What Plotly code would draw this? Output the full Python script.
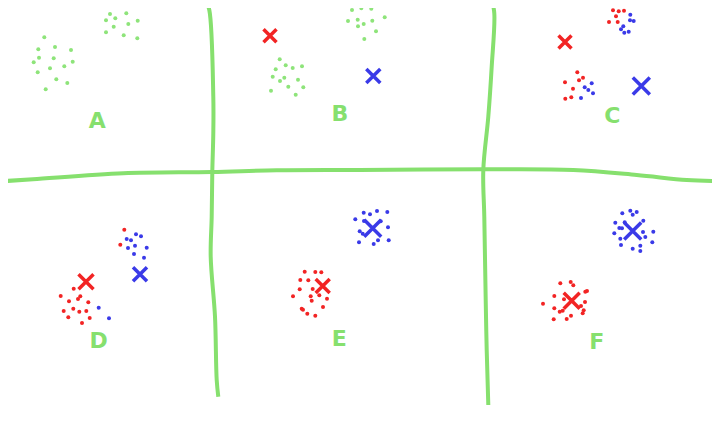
import plotly.graph_objects as go

# ---------- data (drawing coordinates, x right, y down) ----------
# Panel A
a_green_x = [110, 115.3, 126.3, 106, 128.3, 137.7, 113.7, 106, 123.7, 137.3,
             44.3, 38.3, 55, 71, 39, 53.7, 33.7, 72.7, 50, 64.3, 37.7, 56.3, 67.3, 45.7]
a_green_y = [14, 18.3, 13.3, 20.3, 24, 20.7, 26.7, 32.3, 35.3, 38.3,
             37.3, 49.3, 47, 50, 57.7, 58.3, 62.3, 61.7, 68.3, 66.3, 72.3, 79.3, 83, 89.3]
# Panel B
b_green_x = [352, 361.3, 371.3, 348, 357.7, 363.7, 358, 372.3, 384.7, 376, 364.3,
             279.7, 285.7, 275.7, 292.7, 302, 272.7, 284.3, 280, 298, 288.3, 303.3, 271, 295.7]
b_green_y = [10, 8.3, 8.7, 21, 19.7, 24, 26.3, 20.7, 17.3, 31.3, 39,
             59.3, 65.3, 69.3, 68, 66.3, 76.7, 77.7, 81, 79.7, 86.7, 87.3, 90.7, 94.7]
b_red_c = ([270], [35.7])
b_blue_c = ([373.3], [76])
# Panel C
c_red_x = [613, 618.7, 624, 616, 609, 617.7, 577.3, 583, 579, 565, 573, 571.3, 565.3]
c_red_y = [10.3, 11.3, 10.7, 16.3, 22, 22, 72.3, 77.7, 80.3, 82.3, 88.7, 97.3, 98.7]
c_blue_x = [630.3, 630, 633.7, 623.3, 621, 624.3, 628.7, 591.7, 584.7, 588.3, 593, 581]
c_blue_y = [14.7, 20.3, 21, 26.3, 29.3, 32.7, 31.7, 83.3, 87.3, 90, 93.3, 98]
c_red_c = ([565], [42])
c_blue_c = ([641.3], [86])
# Panel D
d_red_x = [124.3, 120.3, 73.7, 60.7, 80.3, 78, 69, 88.3, 73.3, 63.7, 79.3, 86.3, 68.3, 89.7, 82]
d_red_y = [229.7, 244.7, 288.7, 296, 296.3, 299, 301.3, 302.3, 308.7, 311, 311.7, 311, 317.3, 318, 323]
d_blue_x = [136, 141, 126.7, 131, 135, 146.7, 128, 134, 144, 98.7, 109]
d_blue_y = [234.3, 236.3, 239, 240.3, 245.7, 247.7, 248, 254, 257.7, 307.7, 318.3]
d_red_c = ([86], [281.7])
d_blue_c = ([140], [274.3])
# Panel E
e_blue_x = [363.7, 370, 377, 387.3, 355.3, 364, 380.7, 388, 359.7, 362.7, 378, 388.7, 359, 373.7]
e_blue_y = [212.7, 214.3, 211, 212, 219.3, 221, 221.3, 227.3, 231.3, 233.7, 240.3, 240.3, 242.3, 244]
e_red_x = [304.7, 315.3, 321.3, 300.3, 308.3, 299.7, 312.7, 293, 310.7, 319.3, 327, 311.7,
           301.7, 323, 307.3, 315.3, 303]
e_red_y = [271.7, 272, 272.3, 280, 280.3, 289.3, 289, 296.3, 296.3, 295.3, 298.7, 300.7,
           308.7, 307, 313.7, 315.7, 309.7]
e_red_c = ([322.7], [286])
e_blue_c = ([372.7], [228.3])
# Panel F
f_blue_x = [622.3, 630.3, 636.7, 632.7, 615.3, 624.7, 643.3, 619.3, 622, 614.3, 643, 653.3,
            645.3, 620.3, 652.3, 621, 640.3, 632.7, 640.3]
f_blue_y = [213.3, 210.7, 212, 214.7, 222.7, 222.3, 220.7, 228, 228.3, 233.3, 232, 231.7,
            237, 238.7, 242.3, 245, 245.7, 248.7, 251]
f_red_x = [560.3, 570.7, 573.3, 587, 585.3, 554.3, 543, 564, 585, 554.3, 559.7, 562.7,
           583.7, 582.7, 571, 566.7, 553.7, 581]
f_red_y = [283.3, 282, 285.3, 291, 291.7, 296, 303.7, 299.3, 302, 308.3, 311.7, 310.7,
           310.3, 313.3, 315.7, 319, 319.3, 306]
f_red_c = ([571.7], [300.7])
f_blue_c = ([632.7], [231])

# Panel labels
label_text = ["A", "B", "C", "D", "E", "F"]
label_x = [97.3, 340, 612.3, 98.7, 339.3, 596.7]
label_y = [122.7, 115.3, 117.3, 342.3, 340.7, 343.3]

# Hand-drawn dividers
vline1_x = [206, 209.3, 213.3, 213.3, 212.3, 211.7, 210.7, 215, 216.7, 218.3]
vline1_y = [1.7, 10, 96.7, 133.3, 171.7, 216.7, 256.7, 316.7, 380, 396.7]
vline2_x = [491.7, 494.3, 491.7, 488.3, 483.3, 484.3, 485.7, 486.7, 488.3]
vline2_y = [0, 13.3, 66.7, 116.7, 170, 216.7, 300, 350, 405]
hline_x = [6, 33, 123.3, 212, 276.7, 360, 484, 573.3, 636.7, 686.7, 713.3]
hline_y = [181, 179.3, 173.3, 172, 170.3, 170, 169.3, 170, 175, 180, 181]

GREEN = "#86e06e"
GREEN_DOT = "#8ee47a"
RED = "#f22424"
BLUE = "#3a3ae8"

fig = go.Figure()

for lx, ly in [(vline1_x, vline1_y), (vline2_x, vline2_y), (hline_x, hline_y)]:
    fig.add_trace(go.Scatter(x=lx, y=ly, mode="lines",
                             line=dict(color=GREEN, width=4, shape="spline"),
                             hoverinfo="skip", cliponaxis=False))

def dots(x, y, color):
    fig.add_trace(go.Scatter(x=x, y=y, mode="markers", cliponaxis=False,
                             marker=dict(color=color, size=4, line=dict(width=0))))

def cross(c, color, size):
    fig.add_trace(go.Scatter(x=c[0], y=c[1], mode="markers", cliponaxis=False,
                             marker=dict(symbol="x-thin", size=size,
                                         line=dict(color=color, width=3.5))))

dots(a_green_x, a_green_y, GREEN_DOT)
dots(b_green_x, b_green_y, GREEN_DOT)
dots(c_red_x, c_red_y, RED)
dots(c_blue_x, c_blue_y, BLUE)
dots(d_red_x, d_red_y, RED)
dots(d_blue_x, d_blue_y, BLUE)
dots(e_red_x, e_red_y, RED)
dots(e_blue_x, e_blue_y, BLUE)
dots(f_red_x, f_red_y, RED)
dots(f_blue_x, f_blue_y, BLUE)

cross(b_red_c, RED, 13)
cross(b_blue_c, BLUE, 14)
cross(c_red_c, RED, 13)
cross(c_blue_c, BLUE, 17)
cross(d_red_c, RED, 15)
cross(d_blue_c, BLUE, 14)
cross(e_red_c, RED, 14)
cross(e_blue_c, BLUE, 17)
cross(f_red_c, RED, 16)
cross(f_blue_c, BLUE, 17)

fig.add_trace(go.Scatter(x=label_x, y=label_y, mode="text", text=label_text, cliponaxis=False,
                         textfont=dict(color=GREEN, size=22, family="DejaVu Sans",
                                       weight="bold"),
                         textposition="middle center"))

# The page body has an 8px margin; the figure fills the remaining 704x420 area
# so that the axes map directly onto the window's pixel grid.
fig.update_layout(
    width=704, height=420,
    margin=dict(l=0, r=0, t=0, b=0),
    paper_bgcolor="white", plot_bgcolor="white",
    showlegend=False,
    xaxis=dict(range=[8, 712], visible=False, fixedrange=True),
    yaxis=dict(range=[428, 8], visible=False, fixedrange=True),
)

fig.write_html("out.html")
